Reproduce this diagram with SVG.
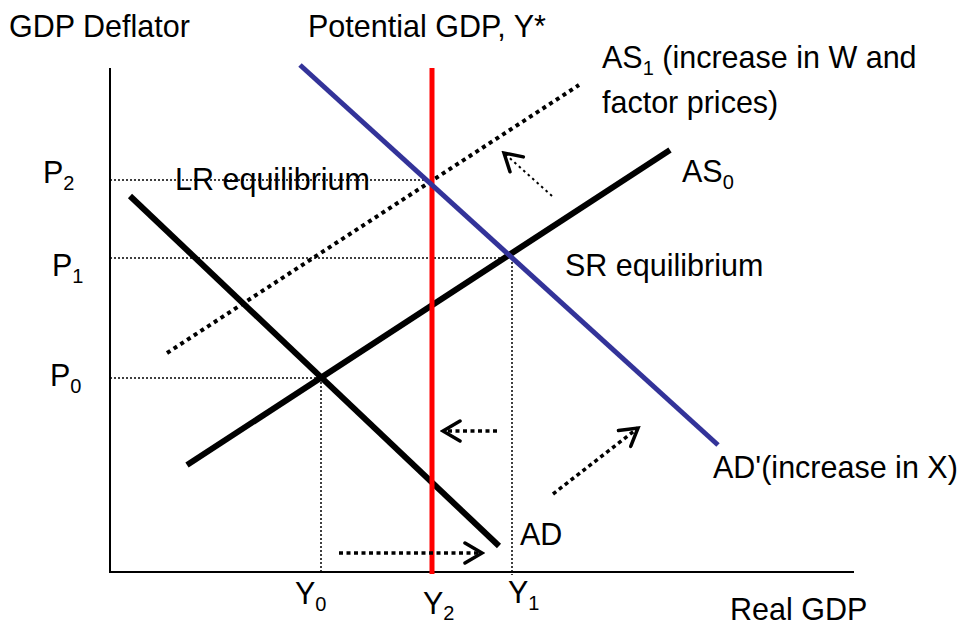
<svg xmlns="http://www.w3.org/2000/svg" width="961" height="625" viewBox="0 0 961 625">
<defs>
<style>
text{font-family:"Liberation Sans",Arial,sans-serif;font-size:30.5px;fill:#000}
.sub{font-size:20px}
.guide{stroke:#000;stroke-width:1.5;stroke-dasharray:2,2;fill:none}
.axis{stroke:#000;stroke-width:2;fill:none}
.curve{stroke:#000;stroke-width:6;fill:none}
.ad2{stroke:#333399;stroke-width:5;fill:none}
.lras{stroke:#ff0000;stroke-width:5;fill:none}
.as1{stroke:#000;stroke-width:4;stroke-dasharray:4,4;fill:none}
.shift{stroke:#000;stroke-width:3.5;stroke-dasharray:4,3.5;fill:none;marker-end:url(#ah)}
.shiftthin{stroke:#000;stroke-width:2;stroke-dasharray:2.5,3.5;fill:none;marker-end:url(#ah)}
</style>
<marker id="ah" viewBox="0 0 22 24" refX="19" refY="12" markerWidth="22" markerHeight="24" markerUnits="userSpaceOnUse" orient="auto">
<path d="M2,2 L19,12 L2,22" fill="none" stroke="#000" stroke-width="3.5" stroke-linecap="round" stroke-linejoin="miter"/>
</marker>
</defs>

<g id="guides">
<line class="guide" x1="110" y1="180" x2="432" y2="180"/>
<line class="guide" x1="110" y1="258" x2="512" y2="258"/>
<line class="guide" x1="110" y1="378" x2="321" y2="378"/>
<line class="guide" x1="321" y1="378" x2="321" y2="574"/>
<line class="guide" x1="512" y1="258" x2="512" y2="575"/>
</g>

<g id="axes">
<polyline class="axis" points="110,68 110,572 854,572"/>
</g>

<g id="curves">
<line id="AD" class="curve" x1="130" y1="196" x2="499" y2="546"/>
<line id="AS0" class="curve" x1="187" y1="465" x2="670" y2="150"/>
<line id="AS1" class="as1" x1="167" y1="353" x2="579" y2="85"/>
<line id="LRAS" class="lras" x1="432" y1="68" x2="432" y2="574"/>
<line id="ADprime" class="ad2" x1="300" y1="65" x2="718" y2="445"/>
</g>

<g id="connectors">
<line class="shiftthin" x1="552" y1="196" x2="504" y2="153"/>
<line class="shift" x1="497" y1="431" x2="443" y2="431"/>
<line class="shift" x1="339" y1="553" x2="482" y2="553"/>
<line class="shift" x1="553" y1="494" x2="638" y2="428"/>
</g>

<g id="labels">
<text x="9" y="37">GDP Deflator</text>
<text x="308" y="37">Potential GDP, Y*</text>
<text x="602" y="68">AS<tspan class="sub" dy="7">1</tspan><tspan dy="-7"> (increase in W and</tspan></text>
<text x="602" y="113">factor prices)</text>
<text x="682" y="182">AS<tspan class="sub" dy="7">0</tspan></text>
<text x="175" y="190">LR equilibrium</text>
<text x="565" y="276">SR equilibrium</text>
<text x="43" y="183">P<tspan class="sub" dy="7">2</tspan></text>
<text x="52" y="276">P<tspan class="sub" dy="7">1</tspan></text>
<text x="50" y="386">P<tspan class="sub" dy="7">0</tspan></text>
<text x="713" y="478">AD'(increase in X)</text>
<text x="520" y="545">AD</text>
<text x="295" y="604">Y<tspan class="sub" dy="7">0</tspan></text>
<text x="423" y="614">Y<tspan class="sub" dy="6">2</tspan></text>
<text x="508" y="603">Y<tspan class="sub" dy="7">1</tspan></text>
<text x="730" y="620">Real GDP</text>
</g>
</svg>
